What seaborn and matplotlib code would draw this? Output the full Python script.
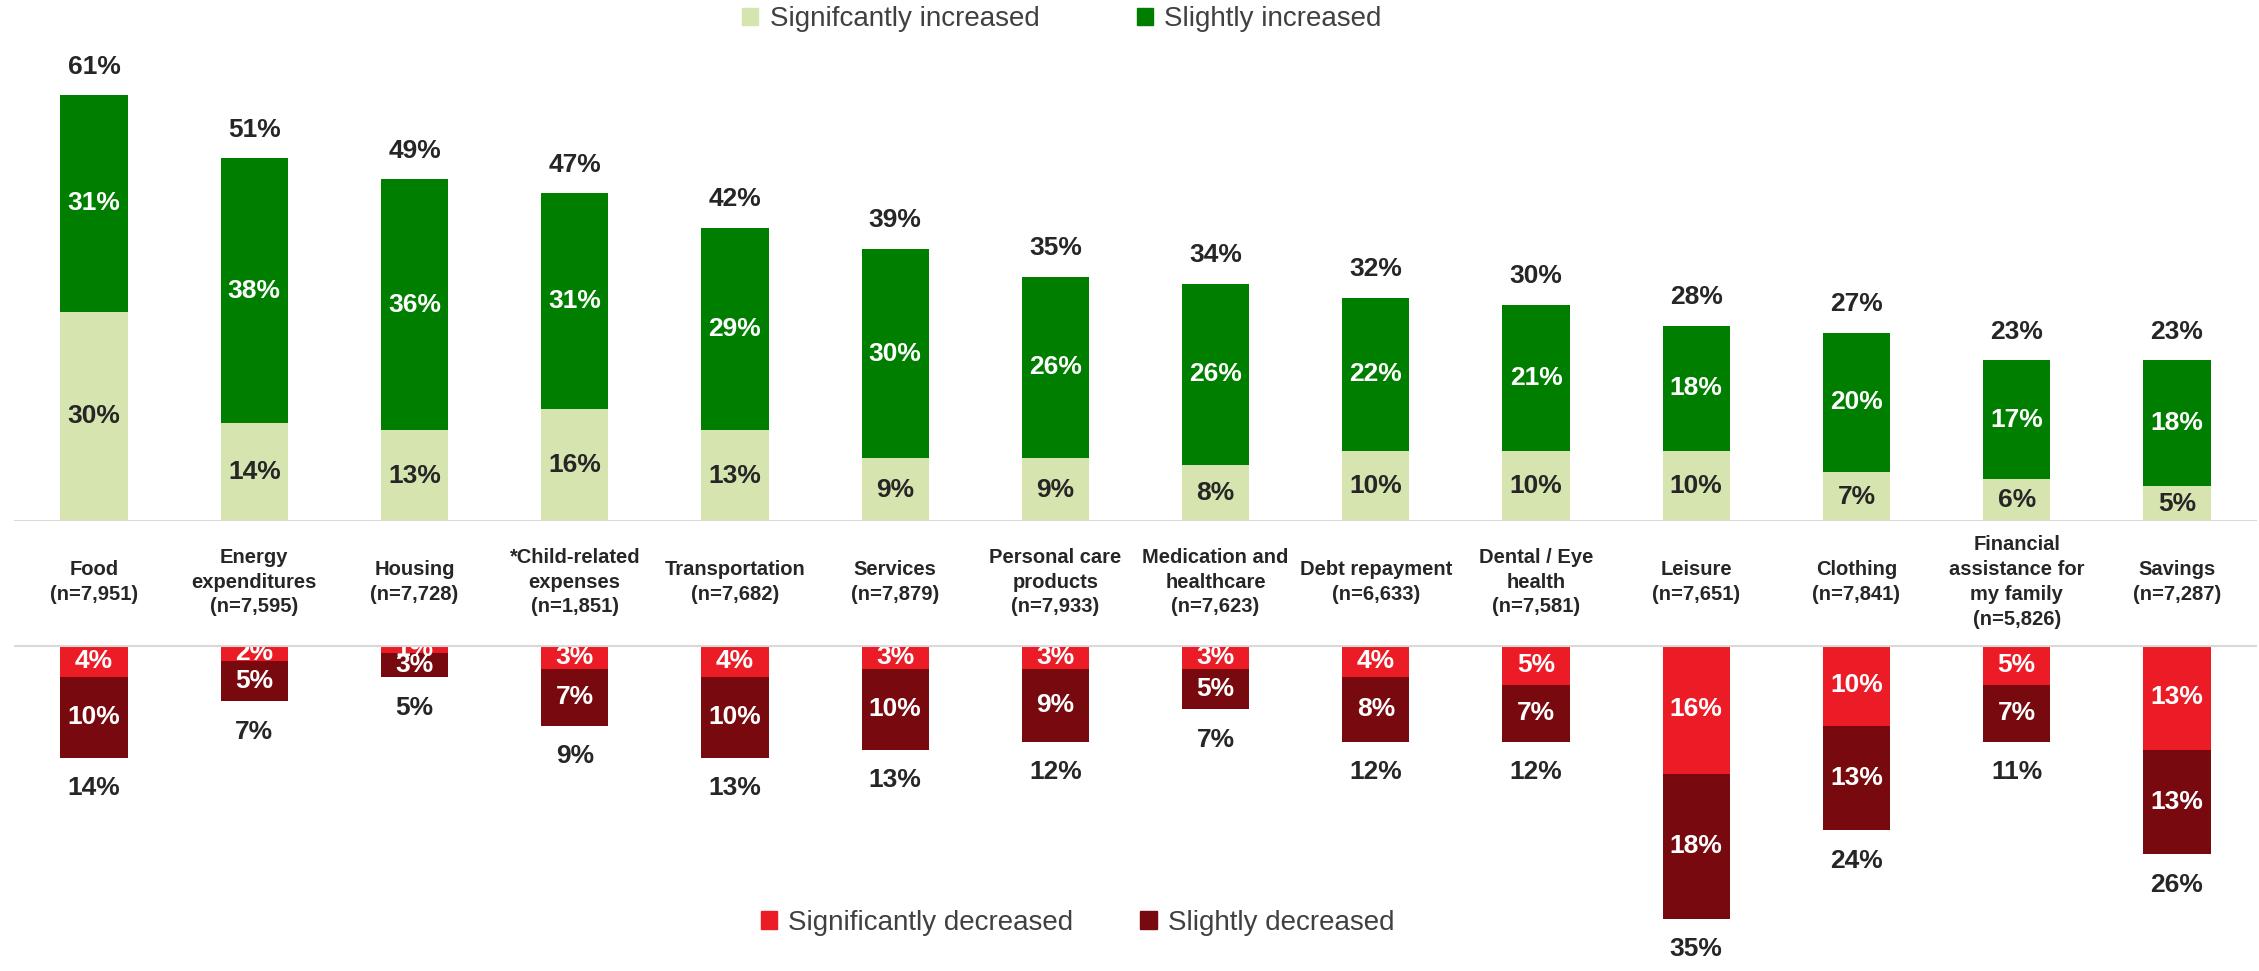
import matplotlib
matplotlib.use("Agg")
import matplotlib.pyplot as plt
import matplotlib.transforms as mtransforms
from matplotlib.patches import Patch
import seaborn as sns
import pandas as pd

# Spending categories (with sample sizes)
categories = [
    "Food\n(n=7,951)",
    "Energy\nexpenditures\n(n=7,595)",
    "Housing\n(n=7,728)",
    "*Child-related\nexpenses\n(n=1,851)",
    "Transportation\n(n=7,682)",
    "Services\n(n=7,879)",
    "Personal care\nproducts\n(n=7,933)",
    "Medication and\nhealthcare\n(n=7,623)",
    "Debt repayment\n(n=6,633)",
    "Dental / Eye\nhealth\n(n=7,581)",
    "Leisure\n(n=7,651)",
    "Clothing\n(n=7,841)",
    "Financial\nassistance for\nmy family\n(n=5,826)",
    "Savings\n(n=7,287)",
]
sig_increased = [30, 14, 13, 16, 13, 9, 9, 8, 10, 10, 10, 7, 6, 5]
slight_increased = [31, 38, 36, 31, 29, 30, 26, 26, 22, 21, 18, 20, 17, 18]
total_increased = [61, 51, 49, 47, 42, 39, 35, 34, 32, 30, 28, 27, 23, 23]
sig_decreased = [4, 2, 1, 3, 4, 3, 3, 3, 4, 5, 16, 10, 5, 13]
slight_decreased = [10, 5, 3, 7, 10, 10, 9, 5, 8, 7, 18, 13, 7, 13]
total_decreased = [14, 7, 5, 9, 13, 13, 12, 7, 12, 12, 35, 24, 11, 26]

LIGHT_GREEN = "#D6E4B0"
DARK_GREEN = "#007E00"
RED = "#EC1C27"
DARK_RED = "#780A0F"
TEXT_DARK = "#262626"
LINE_GREY = "#D9D9D9"

sns.set_theme(style="white")
plt.rcParams["font.family"] = ["Liberation Sans", "DejaVu Sans"]

df = pd.DataFrame({
    "cat": categories,
    "sig_inc": sig_increased,
    "slight_inc": slight_increased,
    "sig_dec": [-v for v in sig_decreased],
    "slight_dec": slight_decreased,
})
df["up_stack"] = df["sig_inc"] + df["slight_inc"]
df["dn_stack"] = df["sig_dec"] - df["slight_dec"]

fig = plt.figure(figsize=(22.59, 9.71), dpi=100)
ax_up = fig.add_axes([0.0062, 0.4634, 0.9929, 0.5032])
ax_dn = fig.add_axes([0.0062, 0.0041, 0.9929, 0.3316])

bar_kw = dict(x="cat", width=0.42, saturation=1, linewidth=0, errorbar=None,
              order=categories)

# Increases: stacked light (significant) under dark (slight)
sns.barplot(data=df, y="up_stack", color=DARK_GREEN, ax=ax_up, **bar_kw)
sns.barplot(data=df, y="sig_inc", color=LIGHT_GREEN, ax=ax_up, **bar_kw)

# Decreases: red (significant) next to the line, dark red (slight) below
sns.barplot(data=df, y="dn_stack", color=DARK_RED, ax=ax_dn, **bar_kw)
sns.barplot(data=df, y="sig_dec", color=RED, ax=ax_dn, **bar_kw)

for ax, lim in ((ax_up, (0, 70)), (ax_dn, (-40, 0))):
    ax.set_xlim(-0.5, len(categories) - 0.5)
    ax.set_ylim(*lim)
    ax.axhline(0, color=LINE_GREY, lw=2.2, zorder=5)
    ax.set_axis_off()

val_fs = 19
for i in range(len(categories)):
    s, t = sig_increased[i], slight_increased[i]
    ax_up.text(i, s / 2, f"{s}%", ha="center", va="center", fontsize=val_fs,
               fontweight="bold", color=TEXT_DARK, clip_on=True)
    ax_up.text(i, s + t / 2, f"{t}%", ha="center", va="center", fontsize=val_fs,
               fontweight="bold", color="white", clip_on=True)
    ax_up.annotate(f"{total_increased[i]}%", (i, s + t), xytext=(0, 20.5),
                   textcoords="offset points", ha="center", va="center",
                   fontsize=val_fs, fontweight="bold", color=TEXT_DARK)

    d1, d2 = sig_decreased[i], slight_decreased[i]
    ax_dn.text(i, -d1 / 2, f"{d1}%", ha="center", va="center", fontsize=val_fs,
               fontweight="bold", color="white", clip_on=True)
    ax_dn.text(i, -d1 - d2 / 2, f"{d2}%", ha="center", va="center",
               fontsize=val_fs, fontweight="bold", color="white", clip_on=True)
    ax_dn.annotate(f"{total_decreased[i]}%", (i, -(d1 + d2)), xytext=(0, -22),
                   textcoords="offset points", ha="center", va="center",
                   fontsize=val_fs, fontweight="bold", color=TEXT_DARK)

# Category labels in the band between the two panels
band = mtransforms.blended_transform_factory(ax_up.transData, fig.transFigure)
for i, label in enumerate(categories):
    ax_up.text(i, 0.4006, label, transform=band, ha="center", va="center",
               multialignment="center", fontsize=14.5, fontweight="bold",
               color=TEXT_DARK, linespacing=1.38, clip_on=False)

legend_kw = dict(loc="center", ncol=2, frameon=False, fontsize=20,
                 handlelength=0.6, handleheight=0.6, handletextpad=0.4,
                 labelcolor="#404040", borderaxespad=0)
fig.legend(handles=[Patch(color=LIGHT_GREEN, label="Signifcantly increased"),
                    Patch(color=DARK_GREEN, label="Slightly increased")],
           bbox_to_anchor=(0.47, 0.980), columnspacing=3.5, **legend_kw)
fig.legend(handles=[Patch(color=RED, label="Significantly decreased"),
                    Patch(color=DARK_RED, label="Slightly decreased")],
           bbox_to_anchor=(0.477, 0.0494), columnspacing=2.4, **legend_kw)

fig.savefig("out.png", dpi=100, facecolor="white")
